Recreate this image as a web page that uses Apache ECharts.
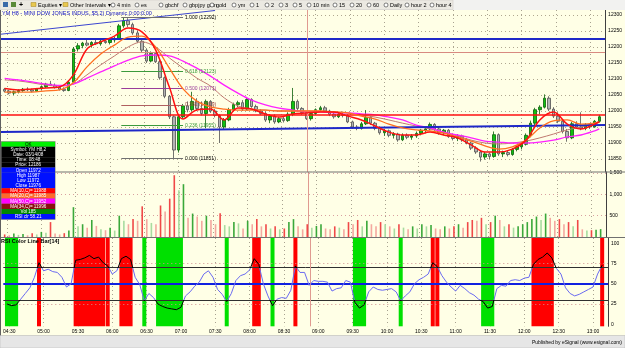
<!DOCTYPE html>
<html><head><meta charset="utf-8">
<script src="https://cdn.jsdelivr.net/npm/echarts@6.0.0/dist/echarts.min.js"></script>
<style>html,body{margin:0;padding:0;overflow:hidden;background:#fff}#c{width:625px;height:348px}</style>
</head><body><div id="c"></div>
<script>
// ---------------- DATA ----------------
const barStart = 268;   // first 4-min bar at 04:28 (minutes after midnight)
const barStep = 4;
const opens = [12068,12062,12056,12060,12064,12068,12066,12062,12070,12076,12084,12080,12074,12068,
12064,12090,12194,12204,12212,12206,12214,12210,12218,12214,12222,12226,12266,12282,
12270,12244,12218,12190,12156,12180,12154,12104,12046,11982,11878,11982,12016,12004,
12030,12008,11992,12030,12000,11986,11950,11972,12004,12020,12026,12006,12036,12014,
12000,11992,11972,11984,11966,11976,11970,11990,12030,12008,11995,11976,11992,12004,
12010,12000,11990,11982,11990,11986,11966,11950,11946,11960,11980,11962,11946,11932,
11938,11924,11928,11910,11924,11918,11922,11930,11940,11944,11958,11944,11932,11940,
11920,11914,11922,11910,11900,11884,11872,11856,11866,11858,11926,11866,11870,11864,
11880,11888,11896,11924,11962,12004,12012,12040,12006,11984,11968,11936,11916,11960,
11950,11946,11956,11950,11968];
const closes = [12062,12056,12060,12064,12068,12066,12062,12070,12076,12084,12080,12074,12068,12064,
12090,12194,12204,12212,12206,12214,12210,12218,12214,12222,12226,12266,12282,12270,
12244,12218,12190,12156,12180,12154,12104,12046,11982,11878,11982,12016,12004,12030,
12008,11992,12030,12000,11986,11950,11972,12004,12020,12026,12006,12036,12014,12000,
11992,11972,11984,11966,11976,11970,11990,12030,12008,11995,11976,11992,12004,12010,
12000,11990,11982,11990,11986,11966,11950,11946,11960,11980,11962,11946,11932,11938,
11924,11928,11910,11924,11918,11922,11930,11940,11944,11958,11944,11932,11940,11920,
11914,11922,11910,11900,11884,11872,11856,11866,11858,11926,11866,11870,11864,11880,
11888,11896,11924,11962,12004,12012,12040,12006,11984,11968,11936,11916,11960,11950,
11946,11956,11950,11968,11982];
const highs = [12072,12066,12064,12068,12072,12074,12070,12072,12080,12088,12094,12086,12080,12074,
12094,12200,12212,12216,12222,12218,12224,12222,12228,12226,12232,12272,12292,12290,
12276,12252,12226,12196,12186,12184,12160,12108,12050,11986,11988,12022,12030,12060,
12040,12030,12036,12034,12006,11990,11978,12010,12026,12032,12034,12044,12040,12020,
12006,11998,11990,11990,11982,11984,11996,12072,12036,12012,12000,11998,12008,12016,
12016,12004,11998,11996,11998,11990,11970,11956,11966,12003,11984,11966,11952,11944,
11942,11934,11932,11930,11930,11928,11936,11944,11948,11964,11962,11950,11944,11944,
11930,11928,11926,11916,11904,11890,11876,11872,11870,11936,11930,11876,11878,11884,
11892,11900,11930,11970,12010,12018,12052,12046,12012,11996,11972,11944,11966,11968,
11996,11962,11962,11972,11988];
const lows = [12058,12052,12050,12055,12060,12062,12058,12060,12066,12072,12078,12070,12064,12060,
12062,12088,12186,12196,12202,12198,12206,12204,12210,12208,12214,12222,12260,12262,
12238,12212,12184,12150,12152,12150,12098,12040,11975,11851,11870,11976,11996,11998,
12000,11986,11946,11994,11980,11900,11944,11968,12000,12012,12000,12002,12010,11996,
11988,11966,11962,11960,11962,11964,11966,11984,12000,11988,11972,11970,11988,11998,
11996,11984,11976,11978,11980,11962,11944,11940,11942,11956,11956,11940,11926,11922,
11918,11914,11904,11906,11912,11910,11916,11924,11930,11940,11938,11926,11924,11916,
11908,11906,11904,11896,11878,11866,11842,11848,11850,11854,11860,11856,11858,11860,
11874,11880,11892,11918,11956,11990,12008,12000,11978,11962,11930,11904,11912,11944,
11940,11940,11944,11948,11964];
const volumes = [60,40,80,50,70,40,90,60,120,100,350,80,60,90,
150,700,250,300,220,400,260,180,160,220,150,500,380,300,
420,380,720,420,330,300,740,600,900,1450,1100,1240,450,550,
480,380,500,400,300,560,280,250,350,320,200,380,300,420,
250,300,200,250,180,200,350,420,250,180,300,220,260,300,
200,180,250,220,180,350,300,400,250,380,300,250,350,300,
250,200,300,220,180,250,200,300,250,280,200,180,250,200,
250,300,220,350,400,380,450,300,350,500,400,250,300,220,
250,300,350,420,480,400,550,450,380,420,300,350,250,400,
180,150,160,170,185];
const rsi = [25,23,24,31,38,45,58,76,66,68,65,64,58,46,
50,79,80,82,85,81,83,76,72,62,66,81,84,80,
58,49,29,38,33,25,22,20,19,18,21,35,40,47,
52,62,66,58,43,37,28,38,54,60,62,67,81,74,
50,35,23,31,33,32,42,72,64,64,48,54,53,53,
52,41,44,45,54,52,27,20,24,40,46,43,42,43,
44,40,29,35,40,50,55,58,62,76,71,60,52,46,
41,48,44,39,36,31,28,20,22,44,48,47,54,55,
54,57,58,74,80,83,88,82,69,62,45,38,35,37,
40,43,46,62,73];
// moving averages read at every third bar
const maBars = [0,3,6,9,12,15,18,21,24,27,30,33,36,39,42,45,48,51,54,57,60,63,66,69,72,75,78,81,84,87,90,93,96,99,102,105,108,111,114,117,120,123,126,129,130];
const ma10 = [12070,12066,12069,12072,12075,12112,12194,12216,12234,12259,12247,12191,12075,11975,12003,12006,11972,12009,12006,11991,11981,11991,11994,11997,11997,11984,11972,11953,11934,11925,11925,11934,11925,11916,11894,11872,11872,11881,11909,11972,11997,11959,11944,11959,11966];
const ma20 = [12059,12059,12059,12063,12066,12088,12138,12178,12206,12231,12234,12200,12134,12069,12031,12013,12006,12003,12003,12003,12000,12000,12000,12000,11997,11994,11984,11975,11959,11947,11941,11938,11931,11919,11906,11891,11881,11888,11909,11947,11969,11972,11959,11962,11966];
const ma50 = [12102,12097,12091,12084,12080,12084,12103,12122,12141,12159,12172,12175,12172,12156,12134,12109,12081,12056,12034,12019,12009,12003,11997,11997,11994,11994,11991,11988,11981,11972,11956,11947,11934,11925,11916,11906,11903,11900,11900,11903,11909,11919,11925,11938,11944];
const ma34 = [12097,12094,12088,12081,12078,12084,12113,12144,12172,12200,12216,12200,12166,12134,12103,12078,12041,12016,12006,12003,12000,12000,12000,12000,11997,11994,11988,11981,11972,11962,11953,11944,11934,11922,11909,11900,11897,11900,11906,11916,11928,11941,11950,11962,11969];
// RSI zones (first bar, last bar)
const redZones = [[7,7],[15,21],[22,22],[25,27],[54,55],[63,63],[93,93],[94,94],[115,119],[130,130]];
const greenZones = [[0,2],[30,30],[33,38],[48,48],[58,58],[76,78],[86,86],[104,106]];
// axis ticks
const timeTicks = [270,300,330,360,390,420,450,480,510,540,570,600,630,660,690,720,750,780];
const priceTicks = [11850,11900,11950,12000,12050,12100,12150,12200,12250,12300];
const volTicks = [500,1000,1500];
const rsiTicks = [0,25,50,75,100];
// drawn studies
const fibNames = ['1.000','0.618','0.500','0.382','0.236','0.000'];
const fibPrices = [12292,12123,12071,12019,11955,11851];
const fibFrom = 370, fibTo = 424;           // time span of the retracement
const levelBlue = 12225, levelPink = 12184, levelRed = 11987;
const slopeBlue = [[264.8,11934],[793.1,11956]];
const topTrend1 = [[264.8,12248],[517,12316]];
const topTrend2 = [[264.8,12240],[452,12314]];
const sessionBreak = 533;
const infoRows = ['OK','Symbol: YM H8,2','Date: 03/14/08','Time: 08:48','Price: 12186','Open 11972','High 11987','Low 11972','Close 11976','MA(10,C)= 11988','MA(20,C)= 11985','MA(50,C)= 11952','MA(34,C)= 11996','Vol 185','RSI clr 58.21'];

// ---------------- BUILD ----------------
const barTimes = opens.map((_, i) => barStart + barStep * i);
const xMin = 264.8, xMax = 793.1;
const fmtTime = v => { const h = Math.floor(v/60), m = v%60; return (h<10?'0':'')+h+':'+(m<10?'0':'')+m; };
const candleData = barTimes.map((t,i)=>[t, opens[i], closes[i], lows[i], highs[i]]);
const maLine = arr => maBars.map((b,k)=>[barTimes[b], arr[k]]);
const volData = barTimes.map((t,i)=>{
  const up = closes[i] >= opens[i];
  const lighter = i>0 && volumes[i] < volumes[i-1];
  const c = up ? (lighter ? '#a8dca0' : '#3aa83a') : (lighter ? '#f4a8a0' : '#f04848');
  return {value:[t, volumes[i]], itemStyle:{color:c}};
});
const rsiData = barTimes.map((t,i)=>[t, rsi[i]]);
const zoneArea = (zones, color) => zones.map(([a,b]) => [
  {xAxis: barTimes[a]-1.75, itemStyle:{color, opacity:1}}, {xAxis: barTimes[b]+1.75}]);
const last = a => a[a.length-1];

const FONT = 'Liberation Sans, Arial, sans-serif';
const dotted = c => ({show:true, lineStyle:{color:c, type:[1,3], width:1}});
const tag = (v, bg, txt) => ({yAxis: v, lineStyle:{opacity:0},
  label:{show:true, position:'end', distance:1, formatter: txt, backgroundColor: bg, color:'#fff', fontSize:5, padding:[1,1,0,1], fontFamily: FONT}});
const fibColors = ['#707070','#3c9a3c','#9a3c9a','#b06060','#3c9a3c','#707070'];
const fibLabelColors = ['#000','#3c9a3c','#9a3c9a','#a04040','#3c9a3c','#000'];

const priceMarks = [
  {yAxis: levelBlue, lineStyle:{color:'#1e28c8', width:2, type:'solid'}},
  {yAxis: levelPink, lineStyle:{color:'#d88a80', width:1, type:'solid'}},
  {yAxis: levelRed, lineStyle:{color:'#ff1010', width:1.5, type:'solid'}},
  [{coord: slopeBlue[0], lineStyle:{color:'#1e28c8', width:2, type:'solid'}}, {coord: slopeBlue[1]}],
  [{coord: topTrend1[0], lineStyle:{color:'#3c46d0', width:1, type:'solid'}}, {coord: topTrend1[1]}],
  [{coord: topTrend2[0], lineStyle:{color:'#3c46d0', width:1, type:'solid'}}, {coord: topTrend2[1]}],
  {xAxis: sessionBreak, lineStyle:{color:'#e09a90', width:1, type:'solid'}},
  ...fibPrices.map((p,k)=>[
    {coord:[fibFrom,p], lineStyle:{color:fibColors[k], width:1, type:'solid'},
     label:{show:true, position:'end', distance:2, formatter: fibNames[k]+' ('+p+')', color: fibLabelColors[k], fontSize:5, fontFamily: FONT}},
    {coord:[fibTo,p]}]),
  tag(last(closes), '#22a822', String(last(closes))),
  tag(last(ma34), '#8b1a1a', String(last(ma34))),
  tag(last(ma20), '#ff7020', String(last(ma20))),
  tag(last(ma50), '#ff20ff', String(last(ma50)))
];

const graphics = [];
// toolbar
graphics.push({type:'rect', shape:{x:0,y:0,width:625,height:10}, style:{fill:'#f2f2f0'}, z:50});
graphics.push({type:'rect', shape:{x:0,y:0,width:453,height:9.5}, style:{fill:'#ebe9e2', stroke:'#c8c6c0', lineWidth:0.5}, z:50});
graphics.push({type:'rect', shape:{x:3,y:2,width:5,height:5}, style:{fill:'#3a6aa8'}, z:51});
graphics.push({type:'rect', shape:{x:11,y:2,width:5,height:5}, style:{fill:'#5a8a3a'}, z:51});
graphics.push({type:'text', style:{x:19,y:5,text:'+',fontSize:7,fontWeight:'bold',fill:'#000',verticalAlign:'middle',fontFamily:FONT}, z:51});
[['Equities ▾',31],['Other Intervals ▾',63]].forEach(([t,x])=>{
  graphics.push({type:'rect', shape:{x:x,y:2.5,width:5,height:4}, style:{fill:'#e8c850', stroke:'#a08020', lineWidth:0.5}, z:51});
  graphics.push({type:'text', style:{x:x+7,y:5,text:t,fontSize:5.5,fill:'#000',verticalAlign:'middle',fontFamily:FONT}, z:51});
});
[['4 min',111],['es',135],['gbchf',159],['gbpjpy gain',183],['gold',210],['ym',232],['1',250],['2',265],['3',279],['5',293],['10 min',307],['15',333],['20',350],['60',367],['Daily',384],['hour 2',405],['hour 4',430]].forEach(([t,x])=>{
  graphics.push({type:'circle', shape:{cx:x+2,cy:5,r:2}, style:{fill:'#fff', stroke:'#303030', lineWidth:0.6}, z:51});
  graphics.push({type:'text', style:{x:x+6,y:5,text:t,fontSize:5.5,fill:'#000',verticalAlign:'middle',fontFamily:FONT}, z:51});
});
// title & study title
graphics.push({type:'text', style:{x:2,y:13.5,text:'YM H8 - MINI DOW JONES INDUS.,$5,2) Dynamic,0:00:0:00',fontSize:5.5,fill:'#1010c0',verticalAlign:'middle',fontFamily:FONT}, z:60});
graphics.push({type:'text', style:{x:1,y:241.5,text:'RSI Color Line Bar[14]',fontSize:5.5,fontWeight:'bold',fill:'#000',verticalAlign:'middle',fontFamily:FONT}, z:60});
// panel separators / borders
[[172,'#707070'],[237.5,'#707070']].forEach(([y,c])=>graphics.push({type:'line', shape:{x1:0,y1:y,x2:625,y2:y}, style:{stroke:c,lineWidth:1}, z:40}));
graphics.push({type:'line', shape:{x1:0.5,y1:10,x2:0.5,y2:336}, style:{stroke:'#606060',lineWidth:1}, z:40});
// bottom bar
graphics.push({type:'rect', shape:{x:0,y:335.5,width:625,height:12.5}, style:{fill:'#e6e6e6', stroke:'#b0b0b0', lineWidth:0.5}, z:50});
graphics.push({type:'text', style:{x:622,y:342.5,text:'Published by eSignal (www.esignal.com)',fontSize:5,fill:'#000',align:'right',verticalAlign:'middle',fontFamily:FONT}, z:51});
// data window box
const boxColors = ['#00f000','#000','#000','#000','#000','#0010ff','#0010ff','#0010ff','#0010ff','#ff0000','#ff6a2a','#ff00ff','#8b1010','#008800','#0010ff'];
const rowH = 5.17, boxY = 141.7;
graphics.push({type:'rect', shape:{x:1,y:boxY-0.5,width:54.5,height:rowH*15+1}, style:{fill:'#808080'}, z:70});
infoRows.forEach((t,k)=>{
  graphics.push({type:'rect', shape:{x:1.5,y:boxY+k*rowH,width:53.5,height:rowH}, style:{fill:boxColors[k]}, z:71});
  graphics.push({type:'text', style:{x:28.25,y:boxY+k*rowH+rowH/2+0.2,text:t,fontSize:4.6,fill:k===0?'#000':'#fff',align:'center',verticalAlign:'middle',fontFamily:FONT}, z:72});
});

const option = {
  backgroundColor: '#ffffe6',
  animation: false,
  textStyle: {fontFamily: FONT},
  grid: [
    {left:1, right:17, top:10, height:162},
    {left:1, right:17, top:172, height:65},
    {left:1, right:17, top:238, height:88.3}
  ],
  xAxis: [0,1,2].map(i=>({
    type:'value', gridIndex:i, min:xMin, max:xMax,
    axisLine:{show:false}, axisTick:{show:false, customValues: timeTicks},
    axisLabel:{show: i===2, customValues: timeTicks, formatter: fmtTime, fontSize:5, color:'#000', margin:2.5, fontFamily:FONT},
    splitLine: dotted('#a8a290')
  })),
  yAxis: [
    {type:'value', gridIndex:0, position:'right', min:11809.4, max:12315.6,
     axisLine:{show:true, lineStyle:{color:'#404040'}}, axisTick:{show:false, customValues: priceTicks},
     axisLabel:{customValues: priceTicks, fontSize:5, color:'#000', margin:3, fontFamily:FONT, formatter: v => String(v)},
     splitLine: dotted('#b0a890')},
    {type:'value', gridIndex:1, position:'right', min:0, max:1526,
     axisLine:{show:true, lineStyle:{color:'#404040'}}, axisTick:{show:false, customValues: volTicks},
     axisLabel:{customValues: volTicks, fontSize:5, color:'#000', margin:3, fontFamily:FONT, formatter: v => v.toLocaleString('en-US')},
     splitLine: dotted('#d8a0a0')},
    {type:'value', gridIndex:2, position:'right', min:-2.5, max:106.5,
     axisLine:{show:true, lineStyle:{color:'#404040'}}, axisTick:{show:false, customValues: rsiTicks},
     axisLabel:{customValues: rsiTicks, fontSize:5, color:'#000', margin:3, fontFamily:FONT, formatter: v => String(v)},
     splitLine:{show:false}}
  ],
  visualMap: {show:false, seriesIndex:6, dimension:1,
    pieces:[{lt:30, color:'#000'},{gte:30, lte:70, color:'#6a6af0'},{gt:70, color:'#000'}]},
  series: [
    {type:'candlestick', xAxisIndex:0, yAxisIndex:0, data:candleData, barWidth:3, z:3,
     itemStyle:{color:'#10c010', color0:'#b4b4b4', borderColor:'#0a600a', borderColor0:'#505050', borderWidth:0.8},
     markLine:{silent:true, symbol:['none','none'], animation:false, label:{show:false}, data: priceMarks}},
    {type:'line', xAxisIndex:0, yAxisIndex:0, data:maLine(ma34), smooth:0.35, showSymbol:false, lineStyle:{color:'#c07a70', width:1}, z:4},
    {type:'line', xAxisIndex:0, yAxisIndex:0, data:maLine(ma50), smooth:0.35, showSymbol:false, lineStyle:{color:'#ff20ff', width:1.3}, z:4},
    {type:'line', xAxisIndex:0, yAxisIndex:0, data:maLine(ma20), smooth:0.35, showSymbol:false, lineStyle:{color:'#ff7020', width:1.3}, z:5},
    {type:'line', xAxisIndex:0, yAxisIndex:0, data:maLine(ma10), smooth:0.35, showSymbol:false, lineStyle:{color:'#ff1010', width:1.5}, z:6},
    {type:'bar', xAxisIndex:1, yAxisIndex:1, data:volData, barWidth:1.6, z:3,
     markLine:{silent:true, symbol:['none','none'], label:{show:false}, data:[
       {xAxis: sessionBreak, lineStyle:{color:'#e09a90', width:1, type:'solid'}},
       tag(last(volumes), '#22a822', String(last(volumes)))]}},
    {type:'line', xAxisIndex:2, yAxisIndex:2, data:rsiData, showSymbol:false, lineStyle:{width:1}, z:5,
     markArea:{silent:true, data:[...zoneArea(redZones,'#ff0000'), ...zoneArea(greenZones,'#00e000')]},
     markLine:{silent:true, symbol:['none','none'], label:{show:false}, data:[
       {yAxis:75, lineStyle:{color:'#d09090', type:[1,3], width:1}},
       {yAxis:25, lineStyle:{color:'#d09090', type:[1,3], width:1}},
       {yAxis:70, lineStyle:{color:'#303030', type:'solid', width:1}},
       {yAxis:30, lineStyle:{color:'#303030', type:'solid', width:1}},
       {yAxis:50, lineStyle:{color:'#1020e0', type:'solid', width:2}},
       {xAxis: sessionBreak, lineStyle:{color:'#e09a90', width:1, type:'solid'}},
       tag(last(rsi), '#1020e0', last(rsi).toFixed(2))]}}
  ],
  graphic: graphics
};
const chart = echarts.init(document.getElementById('c'), null, {renderer:'canvas', width:625, height:348});
chart.setOption(option);
</script></body></html>
